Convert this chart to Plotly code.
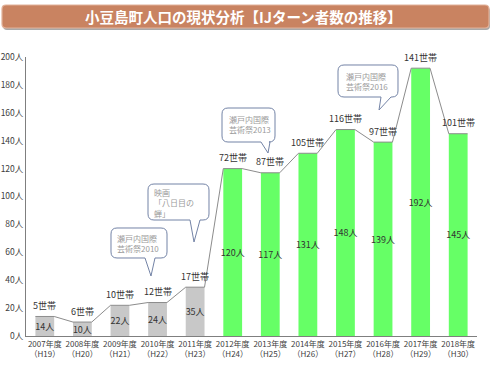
import plotly.graph_objects as go

# ---- data ----
years = ["2007年度", "2008年度", "2009年度", "2010年度", "2011年度", "2012年度",
         "2013年度", "2014年度", "2015年度", "2016年度", "2017年度", "2018年度"]
heisei = ["（H19）", "（H20）", "（H21）", "（H22）", "（H23）", "（H24）",
          "（H25）", "（H26）", "（H27）", "（H28）", "（H29）", "（H30）"]
people = [14, 10, 22, 24, 35, 120, 117, 131, 148, 139, 192, 145]
households = [5, 6, 10, 12, 17, 72, 87, 105, 116, 97, 141, 101]
y_ticks = [0, 20, 40, 60, 80, 100, 120, 140, 160, 180, 200]

FONT = "Noto Sans CJK JP, Noto Sans, sans-serif"
GRAY_BAR = "#C8C8C8"
GREEN_BAR = "#66FF66"

W, H = 500, 375
L, R, T, B = 26, 23, 57, 39
PW, PH = W - L - R, H - T - B

def P(px, py):
    return (px - L) / PW, (H - B - py) / PH

def path_from(cmds):
    out = []
    for c in cmds:
        op = c[0]
        coords = []
        for (px, py) in c[1:]:
            x, y = P(px, py)
            coords.append(f"{x:.5f},{y:.5f}")
        out.append(op + " " + " ".join(coords) if coords else op)
    return " ".join(out)

def bubble(x0, y0, x1, y1, bx0, bx1, tx, ty, r=6):
    cmds = [
        ("M", (x0 + r, y0)), ("L", (x1 - r, y0)), ("Q", (x1, y0), (x1, y0 + r)),
        ("L", (x1, y1 - r)), ("Q", (x1, y1), (x1 - r, y1)),
        ("L", (bx1, y1)), ("L", (tx, ty)), ("L", (bx0, y1)),
        ("L", (x0 + r, y1)), ("Q", (x0, y1), (x0, y1 - r)),
        ("L", (x0, y0 + r)), ("Q", (x0, y0), (x0 + r, y0)), ("Z",),
    ]
    return path_from(cmds)

def rrect(x0, y0, x1, y1, r=4):
    cmds = [
        ("M", (x0 + r, y0)), ("L", (x1 - r, y0)), ("Q", (x1, y0), (x1, y0 + r)),
        ("L", (x1, y1 - r)), ("Q", (x1, y1), (x1 - r, y1)),
        ("L", (x0 + r, y1)), ("Q", (x0, y1), (x0, y1 - r)),
        ("L", (x0, y0 + r)), ("Q", (x0, y0), (x0 + r, y0)), ("Z",),
    ]
    return path_from(cmds)

xs = list(range(len(years)))
colors = [GRAY_BAR if i < 5 else GREEN_BAR for i in xs]
bw = 0.5

# connecting line through the bar top corners
lx, ly = [], []
for i, v in zip(xs, people):
    lx += [i - bw / 2, i + bw / 2]
    ly += [v, v]

fig = go.Figure()
fig.add_trace(go.Scatter(x=lx, y=ly, mode="lines",
                         line=dict(color="#8C8C8C", width=1),
                         hoverinfo="skip", showlegend=False))
fig.add_trace(go.Bar(
    x=xs, y=people, width=bw, marker=dict(color=colors, line=dict(width=0)),
    text=[f"{p}人" for p in people], textposition="inside",
    insidetextanchor="middle", textangle=0, constraintext="none",
    textfont=dict(family=FONT, size=9, color="#333333"),
    showlegend=False,
))

annotations = []
for i, (p, h) in enumerate(zip(people, households)):
    annotations.append(dict(x=i, y=p, xref="x", yref="y", text=f"{h}世帯",
                            showarrow=False, yshift=11,
                            font=dict(family=FONT, size=9, color="#333333")))

shapes = []
# title bar
shapes.append(dict(type="path", xref="paper", yref="paper",
                   path=rrect(3, 7, 490, 30, 4),
                   fillcolor="#A8A8A8", line=dict(width=0), layer="above"))
shapes.append(dict(type="path", xref="paper", yref="paper",
                   path=rrect(2, 5, 489, 28, 4),
                   fillcolor="#C98361", line=dict(color="#E2B29A", width=1.2), layer="above"))
tx, ty = P(243, 17)
annotations.append(dict(x=tx, y=ty, xref="paper", yref="paper",
                        text="<b>小豆島町人口の現状分析【IJターン者数の推移】</b>",
                        showarrow=False, xanchor="center", yanchor="middle",
                        font=dict(family=FONT, size=14.5, color="white")))

# callout bubbles
bubbles = [
    ((111, 228, 167, 258, 145, 155, 151, 276), "瀬戸内国際<br>芸術祭2010", (115, 231)),
    ((148, 184, 209, 220, 190, 200, 194, 242), "映画<br>「八日目の<br>蝉」", (152, 185)),
    ((222, 108, 275, 142, 261, 270, 268, 153), "瀬戸内国際<br>芸術祭2013", (227, 112)),
    ((338, 65, 398, 97, 381, 391, 379, 110), "瀬戸内国際<br>芸術祭2016", (344, 69)),
]
for geo, txt, (tpx, tpy) in bubbles:
    shapes.append(dict(type="path", xref="paper", yref="paper",
                       path=bubble(*geo), fillcolor="white",
                       line=dict(color="#7383A6", width=1), layer="above"))
    ax, ay = P(tpx, tpy)
    annotations.append(dict(x=ax, y=ay, xref="paper", yref="paper", text=txt,
                            showarrow=False, xanchor="left", yanchor="top", align="left",
                            font=dict(family=FONT, size=8, color="#9A9A9A")))

fig.update_layout(
    width=W, height=H,
    margin=dict(l=L, r=R, t=T, b=B, autoexpand=False),
    paper_bgcolor="white", plot_bgcolor="white",
    bargap=0.5,
    shapes=shapes, annotations=annotations,
    font=dict(family=FONT),
    xaxis=dict(range=[-0.5, len(years) - 0.5], tickmode="array", tickvals=xs,
               ticktext=[f"{y}<br>{h}" for y, h in zip(years, heisei)],
               showline=True, linecolor="#7F7F7F", linewidth=1, showgrid=False,
               zeroline=False, ticks="", tickfont=dict(family=FONT, size=8, color="#404040")),
    yaxis=dict(range=[0, 200], tickmode="array", tickvals=y_ticks,
               ticktext=[f"{v}人" for v in y_ticks],
               showline=True, linecolor="#7F7F7F", linewidth=1, showgrid=False,
               zeroline=False, ticks="", ticklabelstandoff=0,
               tickfont=dict(family=FONT, size=8.5, color="#404040")),
)

fig.write_html("out.html", config={"displayModeBar": False},
               post_script="document.body.style.margin='0px';document.body.style.padding='0px';")
